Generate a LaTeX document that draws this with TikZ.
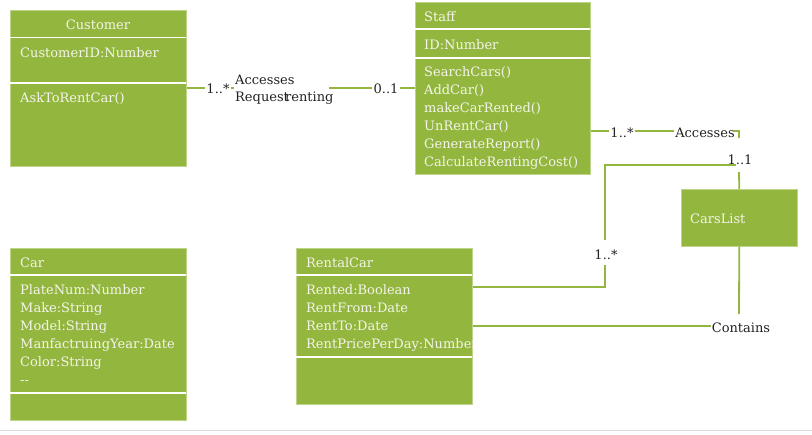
\documentclass[tikz,border=0pt]{standalone}
\usepackage{fontspec}
\setmainfont{DejaVu Serif}
\definecolor{umlgreen}{HTML}{93B73E}
\definecolor{umltext}{HTML}{F4F4EA}
\definecolor{labeltext}{HTML}{222222}
\begin{document}
\begin{tikzpicture}[x=1pt,y=-1pt,
  classbox/.style={fill=umlgreen, draw=umlgreen!60!white, line width=0.6pt, inner sep=0pt, anchor=north west},
  sep/.style={white, line width=1.6pt},
  ctext/.style={text=umltext, inner sep=0pt, anchor=west, align=left, font=\fontsize{13}{18}\selectfont},
  ltext/.style={text=labeltext, inner sep=1pt, font=\fontsize{13}{18}\selectfont},
  conn/.style={umlgreen, line width=1.8pt}]
\useasboundingbox (0,0) rectangle (812,435);
\draw[gray!30, line width=1pt] (0,430.5) -- (812,430.5);

% Customer
\node[classbox, minimum width=176pt, minimum height=156pt] (customer) at (10,10) {};
\draw[sep] (10,37.5) -- (186,37.5);
\draw[sep] (10,83) -- (186,83);
\node[ctext, anchor=center] (customerT) at (98,24.5) {Customer};
\node[ctext] (customerA) at (20,52.5) {CustomerID:Number};
\node[ctext] (customerM) at (20,98.5) {AskToRentCar()};

% Staff
\node[classbox, minimum width=175pt, minimum height=172pt] (staff) at (415,2) {};
\draw[sep] (415,29) -- (590,29);
\draw[sep] (415,58) -- (590,58);
\node[ctext] (staffT) at (424,16.5) {Staff};
\node[ctext] (staffA) at (424,44.5) {ID:Number};
\node[ctext, anchor=north west] (staffM) at (424,66.8) {SearchCars()\\AddCar()\\makeCarRented()\\UnRentCar()\\GenerateReport()\\CalculateRentingCost()};

% Car
\node[classbox, minimum width=176pt, minimum height=172pt] (car) at (10,248) {};
\draw[sep] (10,275) -- (186,275);
\draw[sep] (10,393) -- (186,393);
\node[ctext] (carT) at (20,262.5) {Car};
\node[ctext, anchor=north west] (carA) at (20,284.8) {PlateNum:Number\\Make:String\\Model:String\\ManfactruingYear:Date\\Color:String\\-{}-};

% RentalCar
\node[classbox, minimum width=176pt, minimum height=156pt] (rental) at (296,248) {};
\draw[sep] (296,275) -- (472,275);
\draw[sep] (296,357) -- (472,357);
\node[ctext] (rentalT) at (306,262.5) {RentalCar};
\begin{scope}
\clip (296,276) rectangle (472,356);
\node[ctext, anchor=north west] (rentalA) at (306,284.5) {Rented:Boolean\\RentFrom:Date\\RentTo:Date\\RentPricePerDay:Number};
\end{scope}

% CarsList
\node[classbox, minimum width=116pt, minimum height=57pt] (carslist) at (681,189) {};
\node[ctext] (carslistT) at (690,218.5) {CarsList};

% Customer -- Staff
\node[ltext] (m1) at (218,89) {1..*};
\node[ltext, anchor=west] (acc1) at (234,79.5) {Accesses};
\node[ltext, anchor=west] (req) at (234,98.5) {Request};
\node[ltext, anchor=west] (rent) at (284,98.5) {renting};
\node[ltext] (m2) at (386,89) {0..1};
\coordinate (c1a) at (234,88);
\coordinate (c1b) at (329,88);
\draw[conn] (customer.east |- 0,88) -- (m1.west |- 0,88);
\draw[conn] (m1.east |- 0,88) -- (c1a);
\draw[conn] (c1b) -- (m2.west |- 0,88);
\draw[conn] (m2.east |- 0,88) -- (staff.west |- 0,88);

% Staff -- CarsList (Accesses)
\node[ltext] (m3) at (622,132.5) {1..*};
\node[ltext] (acc2) at (705,132.5) {Accesses};
\node[ltext] (m4) at (740,159.5) {1..1};
\coordinate (c2a) at (733,131);
\coordinate (c2b) at (739,131);
\coordinate (c2c) at (739,138);
\coordinate (c2d) at (739,172);
\draw[conn] (staff.east |- 0,131) -- (m3.west |- 0,131);
\draw[conn] (m3.east |- 0,131) -- (acc2.west |- 0,131);
\draw[conn] (c2a) -- (c2b) -- (c2c);
\draw[conn] (c2d) -- (carslist.north);

% RentalCar -- CarsList
\node[ltext] (m5) at (606,254.5) {1..*};
\coordinate (c3a) at (605,287);
\coordinate (c3b) at (605,265);
\coordinate (c3c) at (605,240);
\coordinate (c3d) at (605,165);
\coordinate (c3e) at (736,165);
\draw[conn] (rental.east |- c3a) -- (c3a) -- (c3b);
\draw[conn] (c3c) -- (c3d) -- (c3e);

% Contains
\node[ltext] (cont) at (741,327.5) {Contains};
\coordinate (c4) at (739,314);
\draw[conn] (rental.east |- 0,326) -- (cont.west |- 0,326);
\draw[conn] (carslist.south) -- (c4);
\end{tikzpicture}
\end{document}
